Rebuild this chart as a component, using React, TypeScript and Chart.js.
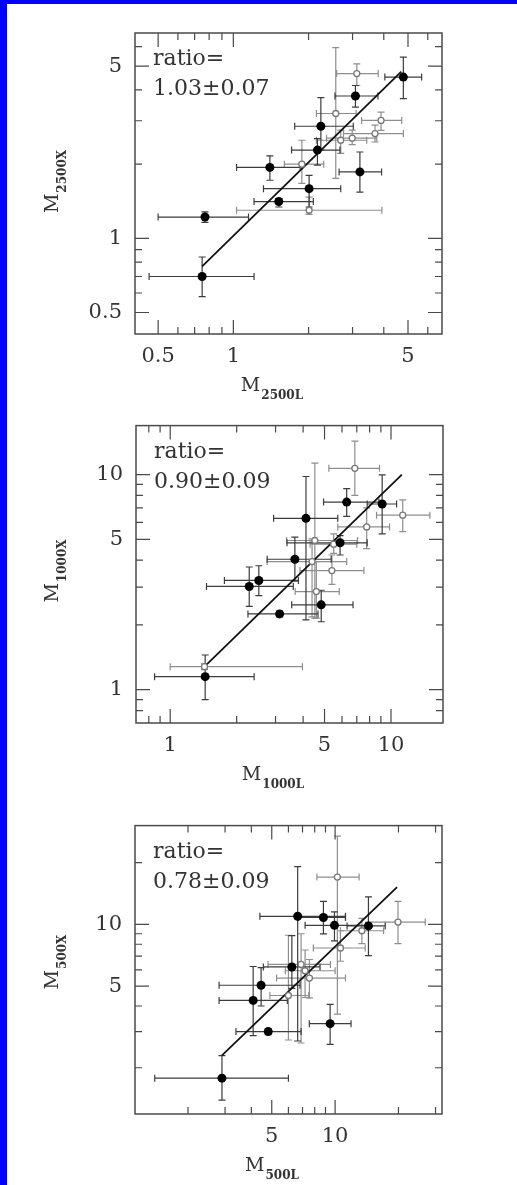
import React, { useEffect, useRef } from "react";
import { Chart, registerables } from "chart.js";

Chart.register(...registerables);

// Each row: [x, y, xMin, xMax, yMin, yMax]
type Row = [number, number, number, number, number, number];

// ---- Panel 1: M2500X against M2500L ----
const p1Filled: Row[] = [
  [0.75, 0.70, 0.46, 1.21, 0.58, 0.84],
  [0.77, 1.22, 0.50, 1.15, 1.16, 1.28],
  [1.52, 1.41, 1.21, 2.09, 1.34, 1.45],
  [2.01, 1.59, 1.32, 2.69, 1.34, 1.80],
  [1.40, 1.94, 1.03, 1.85, 1.72, 2.16],
  [2.17, 2.28, 1.71, 2.67, 1.98, 2.54],
  [2.24, 2.85, 1.76, 3.02, 2.28, 3.72],
  [3.08, 3.78, 2.55, 3.79, 3.41, 4.17],
  [4.79, 4.51, 4.04, 5.67, 3.69, 5.44],
  [3.21, 1.86, 2.65, 3.92, 1.54, 2.24],
];
const p1Open: Row[] = [
  [2.01, 1.30, 1.03, 3.93, 1.25, 1.47],
  [1.88, 2.00, 1.60, 2.30, 1.67, 2.50],
  [2.57, 3.21, 2.15, 3.10, 1.75, 5.94],
  [3.12, 4.66, 2.59, 3.80, 4.17, 5.10],
  [3.90, 3.01, 3.26, 4.72, 2.74, 3.25],
  [3.69, 2.66, 2.76, 4.79, 2.46, 2.88],
  [2.99, 2.55, 2.36, 3.75, 2.40, 2.75],
  [2.69, 2.50, 2.15, 3.42, 2.21, 2.75],
];
const p1Fit = [[0.75, 0.77], [4.7, 4.75]];
const p1XRange = [0.404, 6.84];
const p1YRange = [0.409, 6.81];
const p1TickLabels = [0.5, 1, 5];
const p1MajorTicks = [0.5, 1, 5];
const p1MinorTicks = [0.6, 0.7, 0.8, 0.9, 2, 3, 4, 6];
const p1Ratio = "1.03±0.07";

// ---- Panel 2: M1000X against M1000L ----
const p2Filled: Row[] = [
  [1.44, 1.15, 0.85, 2.40, 0.90, 1.45],
  [2.28, 3.02, 1.46, 3.61, 2.44, 3.72],
  [2.52, 3.22, 1.76, 3.81, 2.74, 3.77],
  [3.13, 2.25, 2.25, 4.67, 2.18, 2.32],
  [3.67, 4.04, 2.75, 5.36, 3.20, 5.12],
  [4.12, 6.26, 2.94, 5.74, 2.11, 9.80],
  [4.83, 2.48, 3.55, 6.73, 2.07, 2.90],
  [5.88, 4.82, 3.38, 7.80, 4.23, 5.20],
  [6.30, 7.45, 4.95, 8.81, 6.40, 8.60],
  [9.12, 7.30, 7.80, 10.6, 5.30, 9.97],
];
const p2Open: Row[] = [
  [1.43, 1.28, 1.00, 3.97, 1.24, 1.32],
  [4.52, 4.94, 3.37, 7.05, 2.15, 11.3],
  [4.39, 3.94, 2.75, 6.30, 2.18, 5.03],
  [4.59, 2.86, 3.68, 5.83, 2.15, 3.94],
  [5.40, 3.58, 3.87, 7.54, 3.09, 4.23],
  [5.50, 4.75, 4.30, 7.00, 4.30, 5.30],
  [6.86, 10.7, 5.23, 8.87, 8.00, 14.3],
  [7.76, 5.71, 5.74, 9.85, 4.53, 7.00],
  [11.3, 6.48, 8.60, 15.0, 5.43, 7.63],
];
const p2Fit = [[1.43, 1.28], [11.2, 10.0]];
const p2XRange = [0.729, 17.2];
const p2YRange = [0.745, 16.9];
const p2TickLabels = [1, 5, 10];
const p2MajorTicks = [1, 5, 10];
const p2MinorTicks = [0.8, 0.9, 2, 3, 4, 6, 7, 8, 9];
const p2Ratio = "0.90±0.09";

// ---- Panel 3: M500X against M500L ----
const p3Filled: Row[] = [
  [2.90, 1.78, 1.39, 6.00, 1.39, 2.29],
  [4.81, 3.00, 3.38, 6.89, 2.90, 3.10],
  [4.08, 4.26, 2.81, 5.93, 2.87, 6.23],
  [4.45, 5.05, 2.81, 6.81, 4.00, 6.15],
  [6.23, 6.20, 4.56, 8.48, 4.87, 8.82],
  [6.64, 10.95, 4.39, 11.2, 2.70, 19.1],
  [8.80, 10.8, 6.68, 11.2, 8.98, 12.95],
  [9.93, 9.89, 7.20, 14.0, 8.30, 11.5],
  [9.47, 3.28, 7.54, 11.9, 2.60, 4.07],
  [14.4, 9.83, 11.4, 17.3, 7.04, 13.6],
];
const p3Open: Row[] = [
  [10.25, 17.0, 8.19, 13.0, 3.65, 26.9],
  [19.9, 10.26, 14.4, 26.8, 8.06, 12.95],
  [13.4, 9.31, 10.6, 17.0, 8.06, 10.7],
  [10.6, 7.67, 7.88, 13.9, 6.61, 9.31],
  [7.55, 5.47, 5.27, 11.2, 4.38, 6.74],
  [6.89, 6.38, 4.80, 9.50, 2.64, 9.00],
  [6.00, 4.50, 4.90, 7.50, 2.73, 8.85],
  [7.20, 5.94, 5.80, 10.0, 4.40, 7.50],
];
const p3Fit = [[2.9, 2.3], [19.7, 15.2]];
const p3XRange = [1.12, 32.2];
const p3YRange = [1.19, 30.3];
const p3TickLabels = [5, 10];
const p3MajorTicks = [5, 10];
const p3XMinorTicks = [2, 3, 4, 6, 7, 8, 9, 20, 30];
const p3YMinorTicks = [2, 3, 4, 6, 7, 8, 9, 20];
const p3Ratio = "0.78±0.09";

const SERIF = '"DejaVu Serif", "Liberation Serif", serif';
const INK = "#333";
const PAGE_W = 517;

interface PanelSpec {
  filled: Row[];
  open: Row[];
  fit: number[][];
  xRange: number[];
  yRange: number[];
  xLabels: number[];
  yLabels: number[];
  xMajor: number[];
  xMinor: number[];
  yMajor: number[];
  yMinor: number[];
  ratio: string;
  xSub: string;
  ySub: string;
  // layout in page pixels: canvas top, canvas height, plot box [left, top, right, bottom]
  canvasTop: number;
  canvasH: number;
  box: number[];
  titleCx: number;
}

const panels: PanelSpec[] = [
  {
    filled: p1Filled, open: p1Open, fit: p1Fit, xRange: p1XRange, yRange: p1YRange,
    xLabels: p1TickLabels, yLabels: p1TickLabels,
    xMajor: p1MajorTicks, xMinor: p1MinorTicks, yMajor: p1MajorTicks, yMinor: p1MinorTicks,
    ratio: p1Ratio, xSub: "2500L", ySub: "2500X",
    canvasTop: 0, canvasH: 400, box: [135, 33, 442, 334], titleCx: 272,
  },
  {
    filled: p2Filled, open: p2Open, fit: p2Fit, xRange: p2XRange, yRange: p2YRange,
    xLabels: p2TickLabels, yLabels: p2TickLabels,
    xMajor: p2MajorTicks, xMinor: p2MinorTicks, yMajor: p2MajorTicks, yMinor: p2MinorTicks,
    ratio: p2Ratio, xSub: "1000L", ySub: "1000X",
    canvasTop: 400, canvasH: 400, box: [136, 423, 443, 723], titleCx: 273,
  },
  {
    filled: p3Filled, open: p3Open, fit: p3Fit, xRange: p3XRange, yRange: p3YRange,
    xLabels: p3TickLabels, yLabels: p3TickLabels,
    xMajor: p3MajorTicks, xMinor: p3XMinorTicks, yMajor: p3MajorTicks, yMinor: p3YMinorTicks,
    ratio: p3Ratio, xSub: "500L", ySub: "500X",
    canvasTop: 800, canvasH: 385, box: [135, 814, 442, 1114], titleCx: 272,
  },
];

const toPoints = (rows: Row[]) =>
  rows.map((r) => ({ x: r[0], y: r[1], xMin: r[2], xMax: r[3], yMin: r[4], yMax: r[5] }));

// Error bars with end caps, drawn underneath the markers
const errorBarPlugin = {
  id: "errorBars",
  beforeDatasetsDraw(chart: any) {
    const { ctx } = chart;
    const xs = chart.scales.x;
    const ys = chart.scales.y;
    const cap = 3.5;
    ctx.save();
    ["open", "filled"].forEach((kind) => {
      const ds = chart.data.datasets.find((d: any) => d.label === kind);
      if (!ds) return;
      ctx.strokeStyle = kind === "filled" ? "#3c3c3c" : "#8e8e8e";
      ctx.lineWidth = 1.2;
      ds.data.forEach((p: any) => {
        const px = xs.getPixelForValue(p.x);
        const py = ys.getPixelForValue(p.y);
        const x0 = xs.getPixelForValue(p.xMin);
        const x1 = xs.getPixelForValue(p.xMax);
        const y0 = ys.getPixelForValue(p.yMin);
        const y1 = ys.getPixelForValue(p.yMax);
        ctx.beginPath();
        ctx.moveTo(x0, py); ctx.lineTo(x1, py);
        ctx.moveTo(x0, py - cap); ctx.lineTo(x0, py + cap);
        ctx.moveTo(x1, py - cap); ctx.lineTo(x1, py + cap);
        ctx.moveTo(px, y0); ctx.lineTo(px, y1);
        ctx.moveTo(px - cap, y0); ctx.lineTo(px + cap, y0);
        ctx.moveTo(px - cap, y1); ctx.lineTo(px + cap, y1);
        ctx.stroke();
      });
    });
    ctx.restore();
  },
};

function framePlugin(s: PanelSpec) {
  return {
    id: "frameAndText",
    afterDraw(chart: any) {
      const { ctx, chartArea: a } = chart;
      const xs = chart.scales.x;
      const ys = chart.scales.y;
      ctx.save();
      // box
      ctx.strokeStyle = "#4a4a4a";
      ctx.lineWidth = 1.5;
      ctx.strokeRect(a.left, a.top, a.right - a.left, a.bottom - a.top);
      // inward ticks on all four sides
      ctx.lineWidth = 1.2;
      const majorLen = 14;
      const minorLen = 7;
      const xTick = (v: number, len: number) => {
        const px = xs.getPixelForValue(v);
        ctx.beginPath();
        ctx.moveTo(px, a.bottom); ctx.lineTo(px, a.bottom - len);
        ctx.moveTo(px, a.top); ctx.lineTo(px, a.top + len);
        ctx.stroke();
      };
      const yTick = (v: number, len: number) => {
        const py = ys.getPixelForValue(v);
        ctx.beginPath();
        ctx.moveTo(a.left, py); ctx.lineTo(a.left + len, py);
        ctx.moveTo(a.right, py); ctx.lineTo(a.right - len, py);
        ctx.stroke();
      };
      s.xMajor.forEach((v) => xTick(v, majorLen));
      s.xMinor.forEach((v) => xTick(v, minorLen));
      s.yMajor.forEach((v) => yTick(v, majorLen));
      s.yMinor.forEach((v) => yTick(v, minorLen));

      // ratio annotation
      ctx.fillStyle = INK;
      ctx.textBaseline = "alphabetic";
      ctx.textAlign = "left";
      ctx.font = `22px ${SERIF}`;
      ctx.fillText("ratio=", a.left + 18, a.top + 32);
      ctx.fillText(s.ratio, a.left + 18, a.top + 62);

      // axis titles with subscripts
      const mFont = `19px ${SERIF}`;
      const subFont = `bold 12px ${SERIF}`;
      const drawTitle = (sub: string, cx: number, base: number) => {
        ctx.font = mFont;
        const wM = ctx.measureText("M").width;
        ctx.font = subFont;
        const wS = ctx.measureText(sub).width;
        const start = cx - (wM + 1 + wS) / 2;
        ctx.font = mFont;
        ctx.fillText("M", start, base);
        ctx.font = subFont;
        ctx.fillText(sub, start + wM + 1, base + 8);
      };
      const top = s.canvasTop;
      drawTitle(s.xSub, s.titleCx, s.box[3] + 57 - top);
      ctx.save();
      ctx.translate(58, (s.box[1] + s.box[3]) / 2 - 2 - top);
      ctx.rotate(-Math.PI / 2);
      drawTitle(s.ySub, 0, 0);
      ctx.restore();
      ctx.restore();
    },
  };
}

function buildConfig(s: PanelSpec): any {
  const [bl, bt, br, bb] = s.box;
  const tickFont = { family: SERIF, size: 21 };
  return {
    type: "scatter",
    data: {
      datasets: [
        {
          label: "filled",
          data: toPoints(s.filled),
          pointRadius: 4.5,
          pointBackgroundColor: "#000",
          pointBorderColor: "#000",
          pointBorderWidth: 0,
          order: 0,
        },
        {
          label: "open",
          data: toPoints(s.open),
          pointRadius: 3,
          pointBackgroundColor: "#fff",
          pointBorderColor: "#777",
          pointBorderWidth: 1.3,
          order: 1,
        },
        {
          label: "fit",
          data: s.fit.map(([x, y]) => ({ x, y })),
          showLine: true,
          borderColor: "#111",
          borderWidth: 1.8,
          pointRadius: 0,
          order: 2,
        },
      ],
    },
    options: {
      responsive: false,
      animation: false,
      events: [],
      layout: { padding: { top: bt - s.canvasTop, right: PAGE_W - br, left: 0, bottom: 0 } },
      plugins: { legend: { display: false }, tooltip: { enabled: false } },
      scales: {
        x: {
          type: "logarithmic",
          position: "bottom",
          min: s.xRange[0],
          max: s.xRange[1],
          afterFit: (scale: any) => {
            scale.height = s.canvasH - (bb - s.canvasTop);
          },
          afterBuildTicks: (scale: any) => {
            scale.ticks = s.xLabels.map((v) => ({ value: v }));
          },
          ticks: {
            callback: (v: any) => String(v),
            font: tickFont,
            color: INK,
            padding: 10,
            autoSkip: false,
            maxRotation: 0,
          },
          grid: { display: false, drawTicks: false },
          border: { display: false },
        },
        y: {
          type: "logarithmic",
          position: "left",
          min: s.yRange[0],
          max: s.yRange[1],
          afterFit: (scale: any) => {
            scale.width = bl;
          },
          afterBuildTicks: (scale: any) => {
            scale.ticks = s.yLabels.map((v) => ({ value: v }));
          },
          ticks: {
            callback: (v: any) => String(v),
            font: tickFont,
            color: INK,
            padding: 13,
            autoSkip: false,
          },
          grid: { display: false, drawTicks: false },
          border: { display: false },
        },
      },
    },
    plugins: [errorBarPlugin, framePlugin(s)],
  };
}

function Panel({ spec }: { spec: PanelSpec }) {
  const ref = useRef<HTMLCanvasElement | null>(null);
  useEffect(() => {
    if (!ref.current) return;
    const chart = new Chart(ref.current, buildConfig(spec));
    return () => chart.destroy();
  }, [spec]);
  return (
    <canvas
      ref={ref}
      width={PAGE_W}
      height={spec.canvasH}
      style={{ position: "absolute", left: 0, top: spec.canvasTop, width: PAGE_W, height: spec.canvasH }}
    />
  );
}

export default function App() {
  return (
    <div style={{ position: "absolute", left: 0, top: 0, width: PAGE_W, height: 1185, background: "#0000fe", overflow: "hidden" }}>
      <div style={{ position: "absolute", left: 7, top: 4, right: 0, bottom: 0, background: "#fff" }} />
      {panels.map((p, i) => (
        <Panel key={i} spec={p} />
      ))}
    </div>
  );
}
